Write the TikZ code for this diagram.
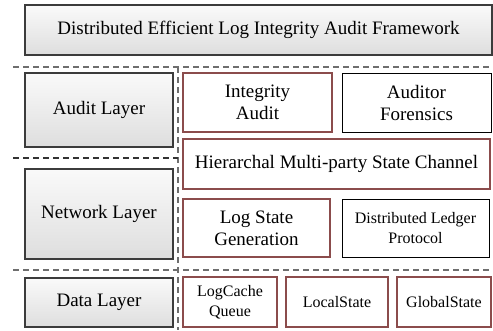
\documentclass[tikz,border=0pt]{standalone}
\usepackage{fontspec}
\setmainfont{Liberation Serif}
\definecolor{frameRed}{RGB}{139,76,76}
\definecolor{layerEdge}{RGB}{60,60,60}
\definecolor{sepGray}{RGB}{110,110,110}
\tikzset{
  layerbox/.style={draw=layerEdge, line width=1.1bp, top color=gray!4, bottom color=gray!26,
    inner sep=0pt, outer sep=0pt, align=center, font=\fontsize{19bp}{22bp}\selectfont},
  redbox/.style={draw=frameRed, line width=2.2bp, fill=white,
    inner sep=0pt, outer sep=0pt, align=center, font=\fontsize{19bp}{22bp}\selectfont},
  plainbox/.style={draw=black, line width=0.9bp, fill=white,
    inner sep=0pt, outer sep=0pt, align=center, font=\fontsize{19bp}{22bp}\selectfont},
  smalltext/.style={font=\fontsize{16bp}{20bp}\selectfont},
  sepline/.style={draw=sepGray, line width=1.2bp, dash pattern=on 6bp off 4bp},
}
\begin{document}
\begin{tikzpicture}[x=1bp, y=-1bp]
\useasboundingbox (0,0) rectangle (493,330);

% separators between the layers
\coordinate (topL) at (13,67);
\coordinate (topR) at (493,67);
\coordinate (vTop) at (178,67);
\coordinate (vBot) at (178,330);
\coordinate (midL) at (13,158);
\coordinate (midR) at (178,158);
\coordinate (lowL) at (13,270);
\coordinate (lowR) at (493,270);
\draw[sepline] (topL) -- (topR);
\draw[sepline] (vTop) -- (vBot);
\draw[sepline, draw=black!80] (midL) -- (midR);
\draw[sepline] (lowL) -- (lowR);

% framework title
\node[layerbox, minimum width=467bp, minimum height=50bp] (title) at (258.5,30)
  {Distributed Efficient Log Integrity Audit Framework};

% layer labels
\node[layerbox, minimum width=148bp, minimum height=74bp] (audit) at (99,110) {Audit Layer};
\node[layerbox, minimum width=148bp, minimum height=90bp] (network) at (99,214) {Network Layer};
\node[layerbox, minimum width=148bp, minimum height=49bp] (data) at (99,302.5) {Data Layer};

% audit layer components
\node[redbox, minimum width=149bp, minimum height=59bp] (integrity) at (257.5,102.5) {Integrity\\Audit};
\node[plainbox, minimum width=149bp, minimum height=59bp] (forensics) at (416.5,102.5) {Auditor\\Forensics};

% network layer components
\node[redbox, minimum width=307bp, minimum height=50bp] (channel) at (336.5,164)
  {Hierarchal Multi-party State Channel};
\node[redbox, minimum width=147bp, minimum height=58bp] (stategen) at (256.5,228) {Log State\\Generation};
\node[plainbox, smalltext, minimum width=147bp, minimum height=58bp] (ledger) at (415.5,228)
  {Distributed Ledger\\Protocol};

% data layer components
\node[redbox, smalltext, minimum width=94bp, minimum height=50bp] (cache) at (230,302) {LogCache\\Queue};
\node[redbox, smalltext, minimum width=102bp, minimum height=50bp] (local) at (337,302) {LocalState};
\node[redbox, smalltext, minimum width=94bp, minimum height=50bp] (global) at (444,302) {GlobalState};
\end{tikzpicture}
\end{document}
